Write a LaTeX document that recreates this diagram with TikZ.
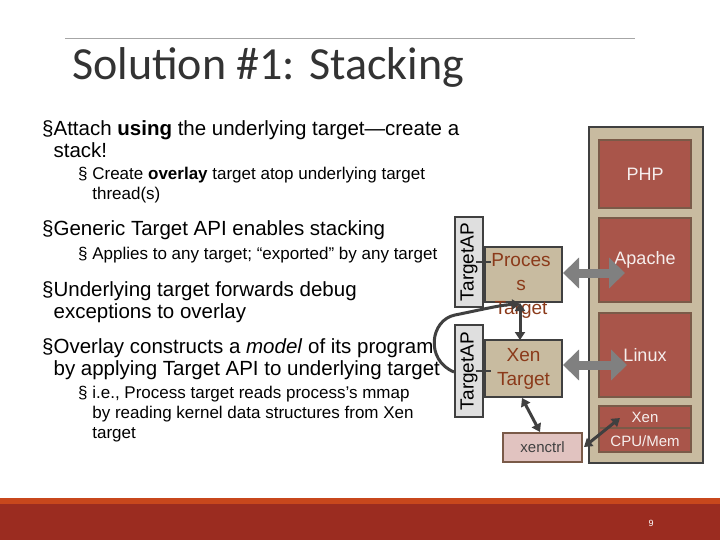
\documentclass[tikz,border=0pt]{standalone}
\usepackage{fontspec}
\setmainfont{Liberation Sans}
\newfontfamily\titlefont{Carlito}
\usetikzlibrary{arrows.meta}
\definecolor{tan}{HTML}{C8BBA0}
\definecolor{brick}{HTML}{A9554A}
\definecolor{edge}{HTML}{7A5A48}
\definecolor{dk}{HTML}{404040}
\definecolor{band}{HTML}{9B2C20}
\definecolor{bandtop}{HTML}{C8471C}
\definecolor{txtred}{HTML}{8B3A1A}
\begin{document}
\begin{tikzpicture}[x=1pt,y=-1pt,
  layer/.style={draw=edge,line width=2pt,fill=brick,text=white!90!brick,font=\fontsize{18}{20}\selectfont},
  tbox/.style={draw=dk,line width=2pt,fill=tan,text=txtred,font=\fontsize{19}{19}\selectfont},
  apbox/.style={draw=dk,line width=2pt,fill=gray!25},
  big/.style={draw=gray,line width=9pt,{Triangle[width=30pt,length=16pt]}-{Triangle[width=30pt,length=16pt]}},
  thin/.style={draw=dk,line width=3pt,{Triangle[width=10pt,length=8pt]}-{Triangle[width=10pt,length=8pt]}},
  txt/.style={anchor=west,inner sep=0pt,font=\fontsize{20.5}{22}\selectfont,align=left},
  sub/.style={anchor=west,inner sep=0pt,font=\fontsize{17}{20}\selectfont,align=left}]
\useasboundingbox (0,0) rectangle (720,540);
\fill[white] (0,0) rectangle (720,540);
\draw[gray!70,line width=0.6pt] (65,38) -- (635,38);
\node[anchor=west,inner sep=0pt,font=\titlefont\fontsize{46}{50}\selectfont,text=black!80] (title) at (72,67) {Solution \#1: Stacking};
\fill[bandtop] (0,498) rectangle (720,504);
\fill[band] (0,504) rectangle (720,540);
\node[text=white,font=\fontsize{9}{10}\selectfont] (pg) at (651,523) {9};
% text
\node[txt] (t1) at (42,139) {§Attach \textbf{using} the underlying target—create a\\ \hphantom{§}stack!};
\node[sub] (t2) at (78,185) {§ Create \textbf{overlay} target atop underlying target\\ \hphantom{§ }thread(s)};
\node[txt] (t3) at (42,230) {§Generic Target API enables stacking};
\node[sub] (t4) at (78,255) {§ Applies to any target; “exported” by any target};
\node[txt] (t5) at (42,302) {§Underlying target forwards debug\\ \hphantom{§}exceptions to overlay};
\node[txt] (t6) at (42,359) {§Overlay constructs a \textit{model} of its program\\ \hphantom{§}by applying Target API to underlying target};
\node[sub] (t7) at (78,414) {§ i.e., Process target reads process’s mmap\\ \hphantom{§ }by reading kernel data structures from Xen\\ \hphantom{§ }target};
% stack
\node[draw=dk,line width=2.5pt,fill=tan,minimum width=114,minimum height=336] (stack) at (646,295) {};
\node[layer,minimum width=92,minimum height=68] (php) at (645,174.5) {PHP};
\node[layer,minimum width=92,minimum height=84] (apache) at (645,260) {Apache};
\node[layer,minimum width=92,minimum height=84] (linux) at (645,355) {Linux};
\node[layer,minimum width=92,minimum height=46] (xen) at (645,429) {};
\draw[edge,line width=1.5pt] (xen.west |- 0,428) -- (xen.east |- 0,428);
\node[text=white!90!brick,font=\fontsize{15}{16}\selectfont] (xenl) at (645,417) {Xen};
\node[text=white!90!brick,font=\fontsize{15}{16}\selectfont] (cpul) at (645,441) {CPU/Mem};
% targets
\node[apbox,minimum width=28,minimum height=90] (ap1) at (469,262) {};
\node[rotate=90,font=\fontsize{19}{19}\selectfont] (ap1t) at (469,262) {TargetAP};
\node[apbox,minimum width=28,minimum height=92] (ap2) at (469,371) {};
\node[rotate=90,font=\fontsize{19}{19}\selectfont] (ap2t) at (469,371) {TargetAP};
\node[tbox,minimum width=77,minimum height=55] (proc) at (523.5,274.5) {};
\node[text=txtred,align=center,font=\fontsize{19}{24}\selectfont] (proct) at (521,286) {Proces\\s\\Target};
\node[tbox,minimum width=77,minimum height=57,align=center,font=\fontsize{19}{24}\selectfont] (xent) at (523.5,368.5) {Xen\\Target};
\node[draw=edge,line width=2pt,fill=brick!35,minimum width=79,minimum height=29,text=dk,font=\fontsize{15}{16}\selectfont] (xenctrl) at (542.5,447.5) {xenctrl};
\draw[dk,line width=1.2pt] (476,262) -- (491,262);
\draw[dk,line width=1.2pt] (476,371) -- (491,371);
% arrows
\draw[big] (proc.east |- 0,273) -- (625,273);
\draw[big] (xent.east |- 0,365) -- (627,365);
\draw[thin] (520,303) -- (520,340);
\draw[thin] (522,398) -- (540,432);
\draw[thin] (584,447) -- (620,418);
\draw[dk,line width=3pt,-{Triangle[width=10pt,length=8pt]}] (454,372) .. controls (425,360) and (430,320) .. (455,315) .. controls (480,310) and (500,305) .. (520,304);
\end{tikzpicture}
\end{document}
